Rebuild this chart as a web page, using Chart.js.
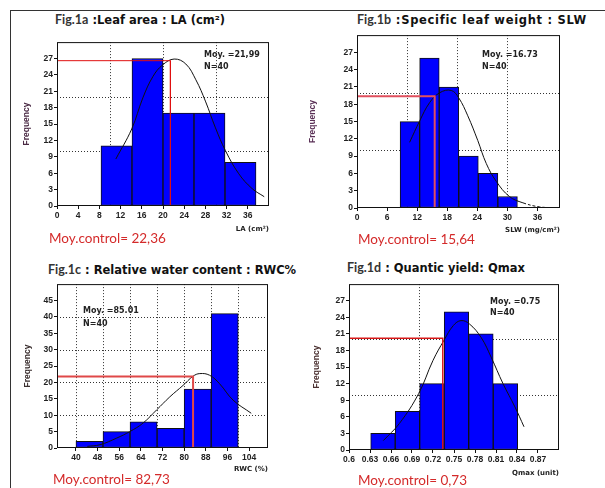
<!DOCTYPE html>
<html>
<head>
<meta charset="utf-8">
<script src="https://cdn.jsdelivr.net/npm/chart.js@4.4.1/dist/chart.umd.min.js"></script>
<style>
body { margin:0; width:605px; height:488px; background:#fff; position:relative; overflow:hidden; font-family:'Liberation Sans', Arial, sans-serif; }
.frame { position:absolute; left:10px; top:10px; width:600px; height:480px; border-top:1px solid #333; border-left:1px solid #333; }
canvas { position:absolute; }
.ttl { position:absolute; font-family:'DejaVu Sans', sans-serif; font-weight:bold; font-size:11.5px; color:#111; white-space:nowrap; line-height:14px; z-index:2; }
.ttl span { font-family:Lato, sans-serif; color:#333; font-size:12.5px; letter-spacing:0; }
.note { position:absolute; font-family:'DejaVu Sans', sans-serif; font-weight:bold; font-size:8px; color:#222; line-height:11px; white-space:nowrap; z-index:2; }
.ctrl { position:absolute; font-family:Lato, sans-serif; font-size:13.5px; color:#d42a2a; white-space:nowrap; line-height:15px; z-index:2; }
</style>
</head>
<body>
<div class="frame"></div>

<div class="ttl" style="left:55px;top:13px"><span>Fig.1a</span> :Leaf area : LA (cm²)</div>
<div class="ttl" style="left:357px;top:13px;letter-spacing:0.7px"><span>Fig.1b</span> :Specific leaf weight : SLW</div>
<div class="ttl" style="left:48px;top:263px"><span>Fig.1c</span> : Relative water content : RWC%</div>
<div class="ttl" style="left:347px;top:261px"><span>Fig.1d</span> : Quantic yield: Qmax</div>

<div class="note" style="left:204px;top:49px">Moy. =21,99</div>
<div class="note" style="left:204px;top:61px">N=40</div>
<div class="note" style="left:482px;top:49px">Moy. =16.73</div>
<div class="note" style="left:482px;top:61px">N=40</div>
<div class="note" style="left:83px;top:305px">Moy. =85.01</div>
<div class="note" style="left:83px;top:318px">N=40</div>
<div class="note" style="left:490px;top:296px">Moy. =0.75</div>
<div class="note" style="left:490px;top:307px">N=40</div>

<div class="ctrl" style="left:49px;top:231px">Moy.control= 22,36</div>
<div class="ctrl" style="left:358px;top:232px">Moy.control= 15,64</div>
<div class="ctrl" style="left:53px;top:472px">Moy.control= 82,73</div>
<div class="ctrl" style="left:358px;top:473px">Moy.control= 0,73</div>

<canvas id="figA"></canvas>
<canvas id="figB"></canvas>
<canvas id="figC"></canvas>
<canvas id="figD"></canvas>

<script>
// Fig.1a - leaf area (cm2)
const laEdges = [8.3, 14.15, 20, 25.85, 31.7, 37.55];
const laFreq = [11, 27, 17, 17, 8];
const laCurveX = [11.1, 14.1, 16.2, 18.1, 19.9, 22.1, 24.3, 26.2, 28.0, 29.9, 31.8, 34.3, 36.8, 39.1];
const laCurveY = [8.6, 14.1, 19.8, 23.7, 25.8, 26.9, 26.0, 23.1, 19.2, 14.3, 10.1, 5.9, 3.2, 1.7];
const laTicksX = [0, 4, 8, 12, 16, 20, 24, 28, 32, 36];
const laTicksY = [0, 3, 6, 9, 12, 15, 18, 21, 24, 27];
const laGridX = [10, 20, 30];
const laGridY = [10, 20];
const laControl = [21.4, 26.6];

// Fig.1b - specific leaf weight (mg/cm2)
const slwEdges = [8.6, 12.5, 16.4, 20.3, 24.2, 28.1, 32.0];
const slwFreq = [15, 26, 21, 9, 6, 2];
const slwCurveX = [10.5, 12.5, 14.5, 16.5, 18.8, 20.3, 22.1, 24.1, 25.8, 27.8, 30.4, 33.1, 36.4, 40.4];
const slwCurveY = [11.4, 15.1, 18.3, 20.0, 20.4, 19.1, 16.0, 11.7, 7.7, 4.6, 2.0, 0.9, 0.2, 0];
const slwTicksX = [0, 6, 12, 18, 24, 30, 36];
const slwTicksY = [0, 3, 6, 9, 12, 15, 18, 21, 24, 27];
const slwGridX = [10, 20, 30];
const slwGridY = [10, 20];
const slwControl = [15.5, 19.4];

// Fig.1c - relative water content (%)
const rwcEdges = [40, 50, 60, 70, 80, 90, 100];
const rwcFreq = [2, 5, 8, 6, 18, 41];
const rwcCurveX = [44.2, 48.9, 55.0, 59.9, 64.8, 69.8, 74.7, 79.6, 83.3, 85.8, 89.4, 93.1, 98.1, 104.8];
const rwcCurveY = [0.5, 1.0, 3.0, 5.0, 7.6, 11.6, 15.6, 19.1, 21.9, 22.7, 22.2, 19.6, 14.6, 10.6];
const rwcTicksX = [40, 48, 56, 64, 72, 80, 88, 96, 104];
const rwcTicksY = [0, 5, 10, 15, 20, 25, 30, 35, 40, 45];
const rwcGridX = [40, 50, 60, 70, 80, 90, 100];
const rwcGridY = [10, 20, 30, 40];
const rwcControl = [83.3, 21.8];

// Fig.1d - quantic yield Qmax (unit)
const qEdges = [0.631, 0.666, 0.701, 0.736, 0.771, 0.806, 0.841];
const qFreq = [3, 7, 12, 25, 21, 12];
const qCurveX = [0.649, 0.672, 0.6995, 0.72, 0.736, 0.749, 0.760, 0.772, 0.789, 0.803, 0.820, 0.837, 0.850];
const qCurveY = [1.7, 4.8, 10.2, 16.2, 19.9, 22.5, 23.4, 22.8, 20.3, 16.8, 12.0, 7.8, 4.2];
const qTicksX = [0.6, 0.63, 0.66, 0.69, 0.72, 0.75, 0.78, 0.81, 0.84, 0.87];
const qTicksY = [0, 3, 6, 9, 12, 15, 18, 21, 24, 27];
const qGridX = [0.7];
const qGridY = [10, 20];
const qControl = [0.734, 20.2];

Chart.defaults.font.family = "'Liberation Sans', Arial, sans-serif";

// plot frame round the chart area
const framePlugin = {
    id: 'frame',
    afterDatasetsDraw(chart) {
        const a = chart.chartArea;
        const ctx = chart.ctx;
        ctx.save();
        ctx.strokeStyle = '#111';
        ctx.lineWidth = 1;
        ctx.strokeRect(a.left + 0.5, a.top + 0.5, a.right - a.left - 1, a.bottom - a.top - 1);
        ctx.restore();
    }
};

// dotted reference grid, at its own values, behind the bars
const dotGridPlugin = {
    id: 'dotgrid',
    beforeDatasetsDraw(chart, args, opts) {
        const a = chart.chartArea;
        const ctx = chart.ctx;
        const sx = chart.scales.x, sy = chart.scales.y;
        ctx.save();
        ctx.strokeStyle = '#333';
        ctx.lineWidth = 1;
        ctx.setLineDash([1, 2]);
        ctx.beginPath();
        (opts.xs || []).forEach(v => {
            const px = Math.round(sx.getPixelForValue(v)) + 0.5;
            ctx.moveTo(px, a.top);
            ctx.lineTo(px, a.bottom);
        });
        (opts.ys || []).forEach(v => {
            const py = Math.round(sy.getPixelForValue(v)) + 0.5;
            ctx.moveTo(a.left, py);
            ctx.lineTo(a.right, py);
        });
        ctx.stroke();
        ctx.restore();
    }
};

function drawPanel(id, p) {
    const wy = Math.round(p.freqOff + 5.1);
    const hx = Math.round(p.xTitleOff + 4.2);
    const cv = document.getElementById(id);
    const left = p.area.l - wy - 2, top = p.area.t - 4;
    cv.width = p.area.r + 4 - left;
    cv.height = p.area.b + hx + 2 - top;
    cv.style.left = left + 'px';
    cv.style.top = top + 'px';

    const centres = p.freq.map((f, i) => (p.edges[i] + p.edges[i + 1]) / 2);
    const tail = p.dashFrom;

    new Chart(cv, {
        type: 'bar',
        data: {
            datasets: [{
                type: 'line',
                data: [{x: p.xMin, y: p.control[1]}, {x: p.control[0], y: p.control[1]}, {x: p.control[0], y: 0}],
                borderColor: p.red,
                borderWidth: p.redWidth,
                pointRadius: 0,
                tension: 0,
                xAxisID: 'x', yAxisID: 'y',
                order: 0
            }, {
                type: 'line',
                data: p.curveX.map((x, i) => ({x: x, y: p.curveY[i]})),
                borderColor: '#111',
                borderWidth: 1,
                pointRadius: 0,
                tension: 0.4,
                segment: {
                    borderDash: ctx => (tail !== undefined && ctx.p0.parsed.x >= tail) ? [3, 2] : undefined
                },
                xAxisID: 'x', yAxisID: 'y',
                order: 1
            }, {
                type: 'bar',
                data: centres.map((x, i) => ({x: x, y: p.freq[i]})),
                backgroundColor: '#0000ff',
                borderColor: '#111',
                borderWidth: 1,
                borderSkipped: false,
                barThickness: 'flex',
                categoryPercentage: 1,
                barPercentage: 1,
                xAxisID: 'x', yAxisID: 'y',
                order: 2
            }]
        },
        options: {
            responsive: false,
            animation: false,
            events: [],
            layout: { padding: {left: 2, top: 4, right: 4, bottom: 2} },
            plugins: {
                legend: {display: false},
                tooltip: {enabled: false},
                dotgrid: {xs: p.gridX, ys: p.gridY}
            },
            scales: {
                x: {
                    type: 'linear', axis: 'x', position: 'bottom',
                    min: p.xMin, max: p.xMax, offset: false,
                    afterBuildTicks: s => { s.ticks = p.ticksX.map(v => ({value: v})); },
                    afterFit: s => { s.height = hx; },
                    grid: { offset: false, drawOnChartArea: false, tickLength: 3, color: '#111' },
                    border: { display: false },
                    ticks: { autoSkip: false, maxRotation: 0, minRotation: 0, padding: 2, color: '#222',
                             font: {size: 8.5, weight: 'bold'}, callback: v => String(v) },
                    title: { display: true, text: p.xTitle, align: 'end', color: '#222', padding: 0,
                             font: {family: "'DejaVu Sans', sans-serif", size: 7, weight: 'bold', lineHeight: 1.2} }
                },
                y: {
                    type: 'linear', axis: 'y', position: 'left',
                    min: 0, max: p.yMax,
                    afterBuildTicks: s => { s.ticks = p.ticksY.map(v => ({value: v})); },
                    afterFit: s => { s.width = wy; },
                    grid: { drawOnChartArea: false, tickLength: 3, color: '#111' },
                    border: { display: false },
                    ticks: { padding: 1, color: '#222', font: {size: 8.5, weight: 'bold'} },
                    title: { display: true, text: 'Frequency', color: p.freqColor, padding: 0,
                             font: {size: 8.5, weight: 'bold', lineHeight: 1.2} }
                }
            }
        },
        plugins: [dotGridPlugin, framePlugin]
    });
}

drawPanel('figA', {
    area: {l: 57, t: 40, r: 269, b: 206}, freqOff: 30, xTitleOff: 23,
    xMin: 0, xMax: 40, yMax: 30,
    edges: laEdges, freq: laFreq, curveX: laCurveX, curveY: laCurveY,
    ticksX: laTicksX, ticksY: laTicksY, gridX: laGridX, gridY: laGridY,
    control: laControl, red: '#e01010', redWidth: 1,
    xTitle: 'LA (cm²)', freqColor: '#4a2a44'
});

drawPanel('figB', {
    area: {l: 357, t: 33, r: 560, b: 208}, freqOff: 44, xTitleOff: 22,
    xMin: 0, xMax: 40.5, yMax: 30,
    edges: slwEdges, freq: slwFreq, curveX: slwCurveX, curveY: slwCurveY,
    ticksX: slwTicksX, ticksY: slwTicksY, gridX: slwGridX, gridY: slwGridY,
    control: slwControl, red: '#e0505e', redWidth: 2, dashFrom: 31,
    xTitle: 'SLW (mg/cm²)', freqColor: '#5a3056'
});

drawPanel('figC', {
    area: {l: 57, t: 282, r: 268, b: 448}, freqOff: 29, xTitleOff: 21,
    xMin: 33, xMax: 111, yMax: 50,
    edges: rwcEdges, freq: rwcFreq, curveX: rwcCurveX, curveY: rwcCurveY,
    ticksX: rwcTicksX, ticksY: rwcTicksY, gridX: rwcGridX, gridY: rwcGridY,
    control: rwcControl, red: '#e04848', redWidth: 2,
    xTitle: 'RWC (%)', freqColor: '#3a2e2e'
});

drawPanel('figD', {
    area: {l: 349, t: 282, r: 559, b: 450}, freqOff: 32, xTitleOff: 22.7,
    xMin: 0.6, xMax: 0.9, yMax: 30,
    edges: qEdges, freq: qFreq, curveX: qCurveX, curveY: qCurveY,
    ticksX: qTicksX, ticksY: qTicksY, gridX: qGridX, gridY: qGridY,
    control: qControl, red: '#d81818', redWidth: 1.5,
    xTitle: 'Qmax (unit)', freqColor: '#4a3030'
});
</script>
</body>
</html>
